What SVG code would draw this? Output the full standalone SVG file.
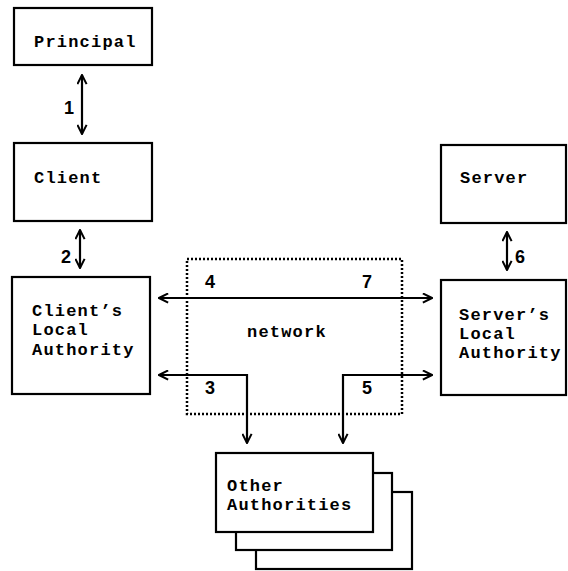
<svg xmlns="http://www.w3.org/2000/svg" width="568" height="571" viewBox="0 0 568 571">
<style>
.box{fill:#fff;stroke:#000;stroke-width:2.2}
.t{font-family:"Liberation Mono",monospace;font-weight:bold;font-size:17px;letter-spacing:1.2px;fill:#000}
.n{font-family:"Liberation Sans",Arial,sans-serif;font-weight:bold;font-size:18px;fill:#000}
.c{fill:none;stroke:#000;stroke-width:2.2}
.net{fill:none;stroke:#000;stroke-width:2.5;stroke-dasharray:2 2}
</style>
<defs>
<marker id="ah" viewBox="0 0 12 12" refX="11" refY="6" markerWidth="11" markerHeight="11" markerUnits="userSpaceOnUse" orient="auto-start-reverse">
<path d="M1,1 L11,6 L1,11" fill="none" stroke="#000" stroke-width="2.2"/>
</marker>
</defs>
<rect width="568" height="571" fill="#fff"/>
<g id="network">
<rect class="net" x="187" y="259" width="215" height="155"/>
<text class="t" x="247" y="337">network</text>
</g>
<g id="principal">
<rect class="box" x="14" y="8" width="138" height="57"/>
<text class="t" x="34" y="47">Principal</text>
</g>
<g id="client">
<rect class="box" x="14" y="143" width="138" height="78"/>
<text class="t" x="34" y="183">Client</text>
</g>
<g id="clients-local-authority">
<rect class="box" x="12" y="277" width="138" height="117"/>
<text class="t" x="32" y="316">Client’s</text>
<text class="t" x="32" y="335">Local</text>
<text class="t" x="32" y="355">Authority</text>
</g>
<g id="server">
<rect class="box" x="441" y="145" width="125" height="78"/>
<text class="t" x="460" y="183">Server</text>
</g>
<g id="servers-local-authority">
<rect class="box" x="441" y="280" width="125" height="115"/>
<text class="t" x="459" y="320">Server’s</text>
<text class="t" x="459" y="339">Local</text>
<text class="t" x="459" y="358">Authority</text>
</g>
<g id="other-authorities">
<rect class="box" x="256" y="492" width="156" height="77"/>
<rect class="box" x="236" y="473" width="156" height="77"/>
<rect class="box" x="216" y="453" width="157" height="79"/>
<text class="t" x="227" y="491">Other</text>
<text class="t" x="227" y="510">Authorities</text>
</g>
<g id="connectors">
<line class="c" x1="82" y1="75" x2="82" y2="134" marker-start="url(#ah)" marker-end="url(#ah)"/>
<line class="c" x1="80" y1="230" x2="80" y2="268" marker-start="url(#ah)" marker-end="url(#ah)"/>
<line class="c" x1="507" y1="232" x2="507" y2="270" marker-start="url(#ah)" marker-end="url(#ah)"/>
<line class="c" x1="159" y1="298" x2="432" y2="298" marker-start="url(#ah)" marker-end="url(#ah)"/>
<polyline class="c" points="159,375 247,375 247,443" marker-start="url(#ah)" marker-end="url(#ah)"/>
<polyline class="c" points="432,375 343,375 343,443" marker-start="url(#ah)" marker-end="url(#ah)"/>
<text class="n" x="64" y="114">1</text>
<text class="n" x="61" y="263">2</text>
<text class="n" x="515" y="263">6</text>
<text class="n" x="205" y="288">4</text>
<text class="n" x="362" y="288">7</text>
<text class="n" x="205" y="394">3</text>
<text class="n" x="362" y="394">5</text>
</g>
</svg>
